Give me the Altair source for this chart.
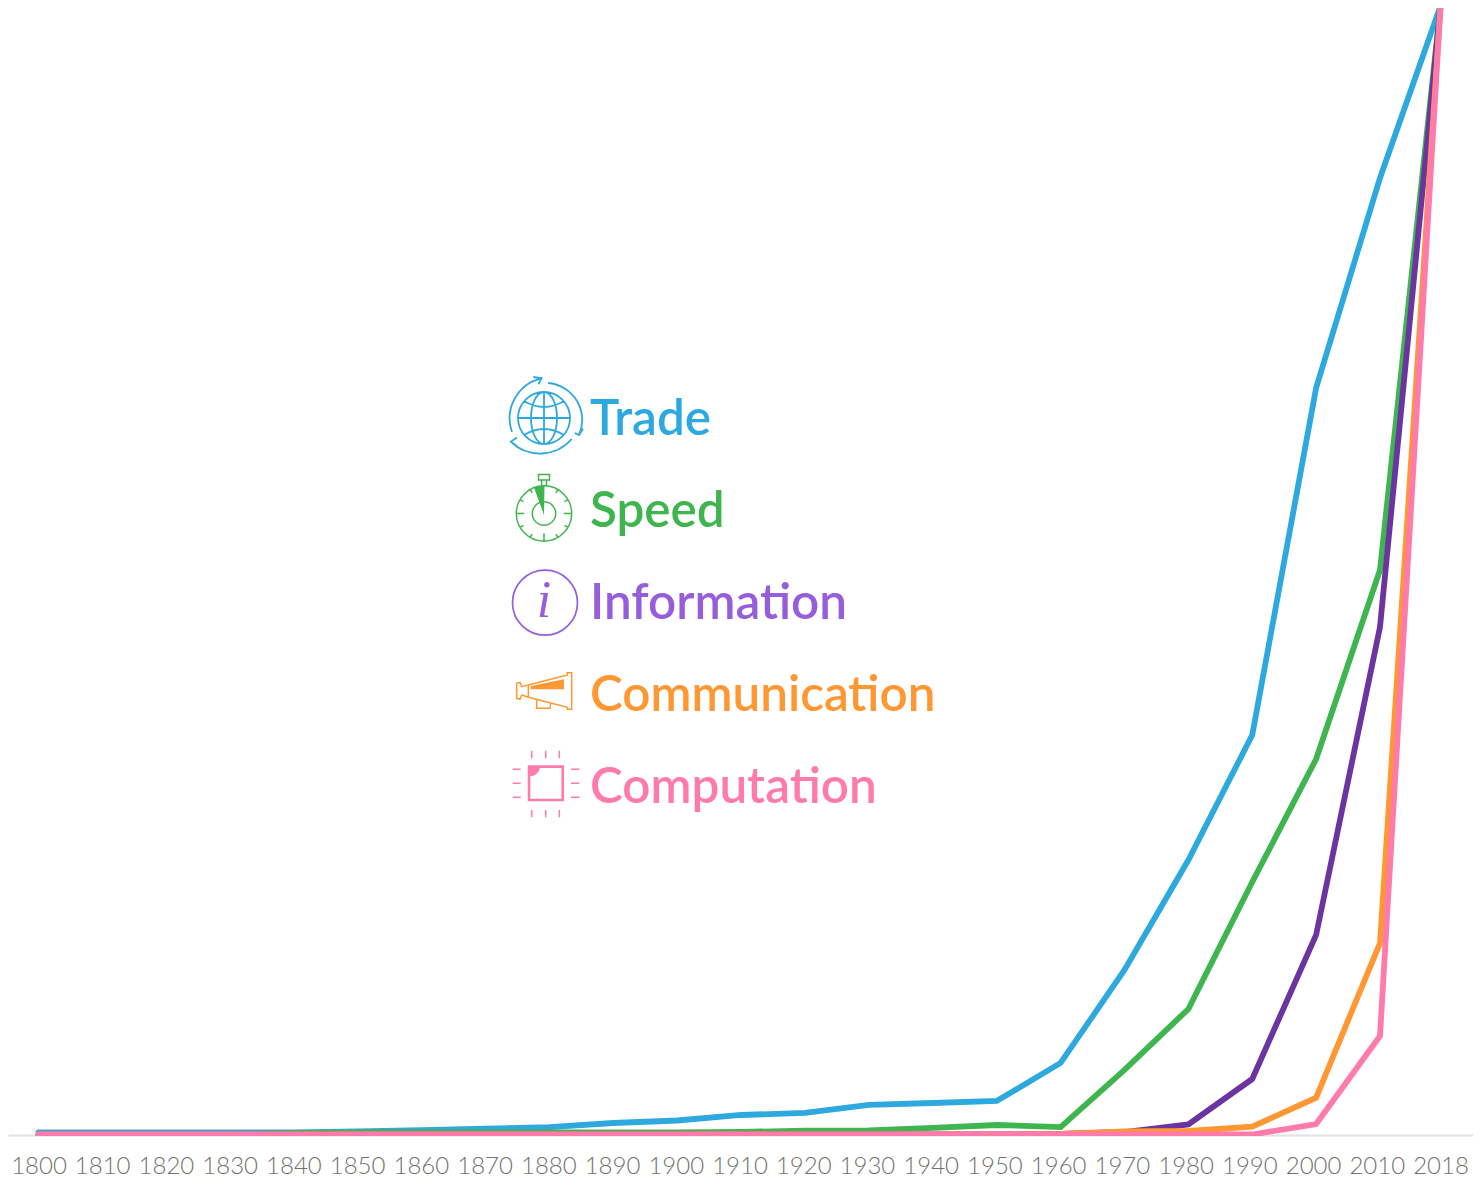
import altair as alt
import pandas as pd

years = [1800,1810,1820,1830,1840,1850,1860,1870,1880,1890,1900,1910,
         1920,1930,1940,1950,1960,1970,1980,1990,2000,2010,2018]
trade = [0.18,0.18,0.18,0.18,0.18,0.27,0.38,0.51,0.66,1.02,1.24,1.73,1.91,2.63,2.79,2.97,6.34,14.58,24.32,35.4,66.15,84.76,100]
speed = [0,0,0,0,0.12,0.18,0.18,0.18,0.18,0.18,0.18,0.22,0.35,0.37,0.58,0.84,0.66,5.72,11.12,22.37,33.27,50.02,100]
information = [0,0,0,0,0,0,0,0,0,0,0,0,0,0,0,0,0.05,0.22,0.89,4.92,17.68,44.97,100]
communication = [0,0,0,0,0,0,0,0,0,0,0,0,0,0,0,0,0.05,0.27,0.31,0.69,3.26,16.97,100]
computation = [0,0,0,0,0,0,0,0,0,0,0,0,0,0,0,0,0,0,0,0,0.93,8.73,100]

series_names = ["Trade","Speed","Information","Communication","Computation"]
line_colors = ["#2ea9df","#3eb54f","#6b34a0","#ff9733","#ff7bac"]
text_colors = ["#2ea9df","#3eb54f","#965edb","#ff9733","#ff7bac"]
series_values = [trade,speed,information,communication,computation]

x_scale = alt.Scale(domain=[1800,2010,2018], range=[30.5,1372,1432.5], nice=False, zero=False)
y_scale = alt.Scale(domain=[0,100], range=[1126.5,-2], nice=False, zero=False)

layers = []
# axis carrier: evenly spaced tick labels
axis_df = pd.DataFrame({"label":[str(y) for y in years]})
layers.append(alt.Chart(axis_df).mark_point(opacity=0).encode(
    x=alt.X("label:O", sort=None, title=None,
            scale=alt.Scale(domain=axis_df["label"].tolist(), padding=0.494, align=0.484),
            axis=alt.Axis(labelAngle=0, ticks=False, grid=False, domainColor="#e2e2e2", domainWidth=2,
                          offset=-1, labelFont="Lato", labelFontWeight=300, labelFontSize=24,
                          labelColor="#72726d", labelPadding=19, labelOverlap=False)),
))

for name, color, vals in zip(series_names, line_colors, series_values):
    df = pd.DataFrame({"year":years,"value":vals})
    layers.append(alt.Chart(df).mark_line(color=color, strokeWidth=5.8, strokeCap="round", clip=True).encode(
        x=alt.X("year:Q", scale=x_scale, axis=None),
        y=alt.Y("value:Q", scale=y_scale, axis=None),
    ))

def P(px, py):
    return alt.value(px-8), alt.value(py-8)

def glyph(path, px, py, color, filled=False, sw=1.6):
    x, y = P(px, py)
    one = pd.DataFrame({"k":[0]})
    if filled:
        m = alt.Chart(one).mark_point(shape=path, size=4, filled=True, fill=color, stroke=None, opacity=1)
    else:
        m = alt.Chart(one).mark_point(shape=path, size=4, filled=False, stroke=color, strokeWidth=sw, opacity=1)
    return m.encode(x=x, y=y)

def poly(pts, close=False):
    s = "M" + " L".join(f"{a},{b}" for a, b in pts)
    return s + (" Z" if close else "")

def circle(r):
    return f"M{-r},0 A{r},{r} 0 1,1 {r},0 A{r},{r} 0 1,1 {-r},0 Z"

# legend text
for name, color, base in zip(series_names, text_colors, [435,527,619,711,803]):
    x, y = P(590, base)
    layers.append(alt.Chart(pd.DataFrame({"label":[name]})).mark_text(
        font="Lato", fontSize=49.4, fontWeight=600, align="left", baseline="alphabetic", color=color
    ).encode(x=x, y=y, text="label:N"))

# Trade icon
c = text_colors[0]
globe = " ".join([
    circle(26), "M0,-26 L0,26", "M-26,0 L26,0",
    "M0,-26 A13,26 0 0,0 0,26 A13,26 0 0,0 0,-26",
    "M-20,-17 Q0,-5 20,-17", "M-20,17 Q0,5 20,17",
    "M-32,14 A41,41 0 0,1 -2.3,-39.7", "M-10.7,-41 L-2.3,-39.7 L-5.7,-33.7",
    "M4,-35 A37,37 0 0,1 35,17", "M30.6,15 L35,17 L39,10.7",
    "M27.7,21 A42,42 0 0,1 -33.3,23.7", "M-27,19.5 L-33.3,23.7 L-27,28",
])
layers.append(glyph(globe, 544, 418, c, sw=1.8))

# Speed icon
c = text_colors[1]
ticks = []
for i, (a, b) in enumerate([(0,-1),(0.5,-0.866),(0.866,-0.5),(1,0),(0.866,0.5),(0.5,0.866),(0,1),(-0.5,0.866),(-0.866,0.5),(-1,0),(-0.866,-0.5),(-0.5,-0.866)]):
    L = 8 if i % 3 == 0 else 4
    if i == 0:
        continue
    ticks.append(f"M{round(a*27.7,2)},{round(b*27.7,2)} L{round(a*(27.7-L),2)},{round(b*(27.7-L),2)}")
watch = " ".join([circle(27.7), circle(11.7),
                  poly([(-5.5,-39),(5.5,-39),(5.5,-33.5),(-5.5,-33.5)], True),
                  "M-2.5,-33.5 L-2.5,-27.5", "M2.5,-33.5 L2.5,-27.5"] + ticks)
layers.append(glyph(watch, 544, 513.5, c, sw=1.5))
layers.append(glyph(poly([(0,1.5),(-10,-26),(0.5,-28)], True), 544, 513.5, c, filled=True))

# Information icon
c = text_colors[2]
layers.append(glyph(circle(32.5), 545, 602.7, c, sw=1.7))
x, y = P(544, 617)
layers.append(alt.Chart(pd.DataFrame({"label":["i"]})).mark_text(
    font="Liberation Serif", fontSize=52, fontStyle="italic", align="center", baseline="alphabetic", color=c
).encode(x=x, y=y, text="label:N"))

# Communication icon
c = text_colors[3]
def z(pts, cx=165, cy=390):
    return [(round((a-cx)/3,2), round((b-cy)/3,2)) for a, b in pts]
horn = " ".join([
    poly(z([(115,375),(232,345),(232,338),(245,338),(245,448),(232,448),(232,442),(115,412),(95,405),(90,418),(80,415),(80,370),(90,367),(95,380)]), True),
    poly(z([(115,375),(115,412)])),
    poly(z([(140,420),(140,445),(180,445),(182,430)])),
])
layers.append(glyph(horn, 545, 690, c, sw=1.5))
layers.append(glyph(poly(z([(122,378),(222,358),(222,388),(122,388)]), True), 545, 690, c, filled=True))

# Computation icon
c = text_colors[4]
chip = poly(z([(117,620),(218,620),(218,720),(117,720)], 167, 670), True)
pins = []
for v in [125,167,208]:
    pins += [poly(z([(v,572),(v,595)],167,670)), poly(z([(v,750),(v,772)],167,670))]
for v in [628,670,712]:
    pins += [poly(z([(68,v),(92,v)],167,670)), poly(z([(243,v),(268,v)],167,670))]
layers.append(glyph(chip, 545.7, 783.3, c, sw=2.6))
layers.append(glyph(" ".join(pins), 545.7, 783.3, c, sw=1.5))
layers.append(glyph("M-16.7,-16.7 L-5.7,-16.7 Q-6.5,-7.5 -16.7,-6.7 Z", 545.7, 783.3, c, filled=True))

chart = alt.layer(*layers).resolve_scale(x="independent").properties(
    width=1465, height=1128,
    autosize=alt.AutoSizeParams(type="none"),
    padding={"left":0,"top":0,"right":0,"bottom":48},
).configure_view(stroke=None)

chart.save("out.html", embed_options={"renderer": "svg", "actions": False})
